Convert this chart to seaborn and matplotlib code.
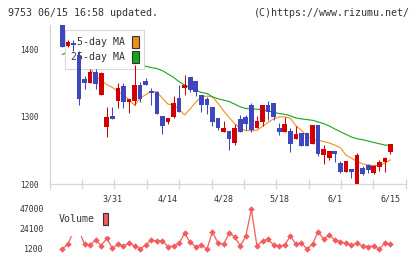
import numpy as np
import matplotlib
matplotlib.use("Agg")
import matplotlib.pyplot as plt
from matplotlib.patches import Patch
import seaborn as sns

sns.set_style("white")
plt.rcParams["font.family"] = ["DejaVu Sans Mono"]

# daily candles, oldest first (last one is 6/15)
opens = [1418.5, 1440, 1406, 1410, 1393, 1357, 1351, 1367, 1332, 1285,
         1302, 1324, 1346, 1322, 1324, 1347, 1353, 1338, 1337, 1302,
         1292, 1300, 1328, 1343, 1359, 1353, 1332, 1326, 1315, 1298,
         1278, 1279, 1261, 1297, 1300, 1318, 1284, 1293, 1318, 1321,
         1284, 1278, 1279, 1267, 1276, 1276, 1260, 1288, 1243, 1239,
         1249, 1231, 1218, 1222, 1200, 1224, 1228, 1216, 1225, 1233,
         1248]
highs = [1419.5, 1445, 1414, 1414, 1398, 1361, 1371, 1371, 1367, 1315,
         1315, 1351, 1351, 1326, 1378, 1352, 1358, 1343, 1338, 1302,
         1299, 1331, 1347, 1362, 1359, 1353, 1332, 1330, 1315, 1298,
         1294, 1279, 1289, 1303, 1303, 1320, 1302, 1318, 1323, 1321,
         1291, 1300, 1283, 1286, 1276, 1276, 1288, 1288, 1258, 1249,
         1249, 1234, 1234, 1222, 1246, 1227, 1230, 1228, 1236, 1240,
         1260]
lows = [1418.5, 1404, 1404, 1398, 1318, 1342, 1351, 1342, 1332, 1270,
        1297, 1313, 1313, 1306, 1318, 1322, 1347, 1318, 1305, 1275,
        1289, 1299, 1308, 1332, 1337, 1331, 1308, 1305, 1287, 1281,
        1278, 1251, 1258, 1277, 1281, 1278, 1284, 1287, 1296, 1296,
        1273, 1278, 1248, 1267, 1257, 1257, 1260, 1242, 1230, 1236,
        1233, 1216, 1218, 1209, 1199, 1213, 1216, 1215, 1219, 1218,
        1245]
closes = [1419.5, 1404, 1412, 1407, 1326, 1351, 1367, 1349, 1365, 1300,
          1297, 1343, 1322, 1326, 1347, 1327, 1347, 1335, 1305, 1286,
          1299, 1320, 1308, 1347, 1340, 1337, 1318, 1318, 1293, 1284,
          1284, 1267, 1284, 1277, 1290, 1280, 1294, 1318, 1307, 1300,
          1278, 1290, 1260, 1275, 1257, 1257, 1288, 1245, 1252, 1249,
          1245, 1218, 1234, 1218, 1243, 1215, 1221, 1227, 1233, 1239,
          1260]
ma5 = [np.nan, 1427, 1424, 1418, 1394, 1380, 1373, 1360, 1355, 1348,
       1344, 1338, 1332, 1326, 1317, 1328, 1333, 1338, 1337, 1328,
       1319, 1318, 1311, 1303, 1312, 1322, 1330, 1331, 1330, 1320,
       1309, 1299, 1290, 1283, 1279.5, 1279.5, 1280, 1286, 1292, 1297,
       1300, 1300, 1298, 1287, 1280, 1271, 1267, 1265, 1263.5, 1261,
       1258, 1254, 1243, 1238.5, 1233.5, 1230, 1228, 1227.5, 1228, 1231,
       1236]
ma25 = [np.nan, 1393, 1397, 1396, 1394, 1392, 1390, 1388, 1386, 1384,
        1383, 1382, 1381, 1379, 1378, 1377, 1375.5, 1373.5, 1372, 1369,
        1364, 1359, 1352.5, 1347.5, 1343.5, 1340, 1336.5, 1335, 1330, 1327,
        1325, 1323, 1319, 1315, 1312.5, 1312, 1311.5, 1311, 1309, 1307,
        1305, 1304, 1301.5, 1298.5, 1297, 1296, 1295, 1292.5, 1290, 1286.5,
        1282, 1278, 1274, 1270, 1267.5, 1266, 1264, 1262, 1260, 1258,
        1257.5]
volume = [np.nan, 1200, 6900, 20700, 21800, 6900, 5800, 11500, 5000, 13400,
          2000, 6500, 4600, 7700, 4800, 1200, 5800, 11500, 10300, 10700,
          3900, 4600, 7700, 19200, 8800, 3900, 5800, 1000, 21000, 7700,
          6900, 19200, 15300, 4600, 16100, 46700, 4600, 10700, 12300, 5800,
          4600, 5800, 16100, 6900, 8400, 1000, 6900, 21000, 12300, 17200,
          11500, 9600, 7700, 5800, 7700, 4600, 3900, 4600, 1000, 8400,
          6900]
date_labels = ["3/31", "4/14", "4/28", "5/18", "6/1", "6/15"]
date_pos = [10, 20, 30, 40, 50, 60]
price_ticks = [1200, 1300, 1400]
vol_ticks = [1200, 24100, 47000]

UP, DOWN = "#d20000", "#3f47bf"
ORANGE, GREEN, VOLC = "#f0901e", "#14a814", "#f35c5c"
AXC, TXT = "#d6d6d6", "#333333"

idx = np.arange(len(closes))
o, h, l, c = (np.asarray(v, float) for v in (opens, highs, lows, closes))
colors = np.where(c >= o, UP, DOWN)

fig = plt.figure(figsize=(4.2, 2.59), dpi=100)
ax = fig.add_axes([49.5 / 420, 1 - 184 / 259, 356.5 / 420, 159 / 259])
axv = fig.add_axes([49.5 / 420, 1 - 253 / 259, 356.5 / 420, 48 / 259])

# moving averages sit under the legend box, candles on top of it
sns.lineplot(x=idx, y=ma5, ax=ax, color=ORANGE, linewidth=0.8, zorder=2)
sns.lineplot(x=idx, y=ma25, ax=ax, color=GREEN, linewidth=0.8, zorder=2)
ax.vlines(idx, l, h, colors=colors, linewidth=0.75, zorder=3)
ax.bar(idx, np.maximum(np.abs(c - o), 1.2), bottom=np.minimum(o, c),
       width=0.84, color=colors, linewidth=0, zorder=3.1)

ax.set_xlim(-1.3, 62.8)
ax.set_ylim(1200, 1437)
for s in ["top", "right"]:
    ax.spines[s].set_visible(False)
for s in ["left", "bottom"]:
    ax.spines[s].set_color(AXC)
    ax.spines[s].set_linewidth(0.9)
ax.set_yticks(price_ticks)
ax.set_xticks(date_pos)
ax.set_xticklabels(date_labels)
ax.set_xticks(np.arange(-1.27, 63, 5.82), minor=True)
ax.tick_params(axis="y", direction="inout", length=6.5, width=0.9, color=AXC,
               labelsize=5.6, labelcolor=TXT, pad=4.4)
ax.tick_params(axis="x", which="major", length=0, labelsize=6, labelcolor=TXT, pad=7.6)
ax.tick_params(axis="x", which="minor", direction="inout", length=6.5, width=0.9,
               color=AXC, bottom=True)
ax.set_xlabel("")
ax.set_ylabel("")

leg = ax.legend(
    handles=[Patch(facecolor=ORANGE, edgecolor="#333333", linewidth=0.8),
             Patch(facecolor=GREEN, edgecolor="#333333", linewidth=0.8)],
    labels=["5-day MA", "25-day MA"], loc="upper left",
    bbox_to_anchor=(0.0435, 0.9686), borderaxespad=0, fontsize=7.1,
    markerfirst=False, handlelength=0.68, handleheight=1.58, handletextpad=0.7,
    labelspacing=0.21, borderpad=0.6, fancybox=False, framealpha=1,
    edgecolor="#d8d8d8")
leg.get_frame().set_linewidth(0.8)
for t in leg.get_texts():
    t.set_color(TXT)
leg.set_zorder(2.5)

# volume panel
sns.lineplot(x=idx, y=volume, ax=axv, color=VOLC, linewidth=0.9, marker="D",
             markersize=3.3, markeredgewidth=0, zorder=2)
axv.set_xlim(-1.3, 62.8)
axv.set_ylim(-3380, 51580)
for s in axv.spines.values():
    s.set_visible(False)
axv.set_xticks([])
axv.set_yticks(vol_ticks)
axv.set_yticklabels([str(v) for v in vol_ticks])
axv.tick_params(axis="y", length=0, labelsize=5.9, labelcolor=TXT, pad=4)
axv.set_xlabel("")
axv.set_ylabel("")
vleg = axv.legend(
    handles=[Patch(facecolor=VOLC, edgecolor="#333333", linewidth=0.8)],
    labels=["Volume"], loc="upper left", bbox_to_anchor=(-0.001, 1.046),
    borderaxespad=0, fontsize=7.1, markerfirst=False, handlelength=0.57,
    handleheight=1.58, handletextpad=0.78, borderpad=1.0, fancybox=False,
    framealpha=1, edgecolor="white")
for t in vleg.get_texts():
    t.set_color(TXT)
vleg.set_zorder(3)

fig.text(8 / 420, 1 - 12.5 / 259, "9753 06/15 16:58 updated.", fontsize=7.2,
         color=TXT, va="center", ha="left")
fig.text(410 / 420, 1 - 12.5 / 259, "(C)https://www.rizumu.net/", fontsize=7.2,
         color=TXT, va="center", ha="right")

fig.savefig("out.png", dpi=100)
